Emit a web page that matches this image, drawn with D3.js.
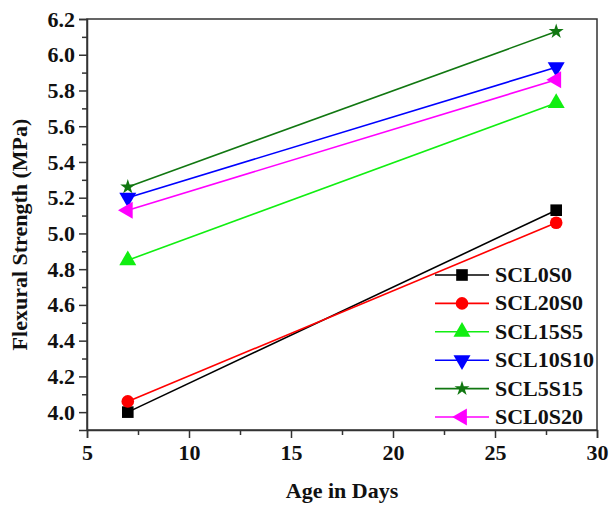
<!DOCTYPE html>
<html>
<head>
<meta charset="utf-8">
<title>Flexural Strength</title>
<style>
  body { margin: 0; background: #fff; }
  text { font-family: "Liberation Serif", "Times New Roman", Times, serif; font-weight: bold; fill: #111; }
</style>
</head>
<body>
<script src="https://cdn.jsdelivr.net/npm/d3@7"></script>
<script>
// data
var ages = [7, 28];
var seriesNames = ["SCL0S0", "SCL20S0", "SCL15S5", "SCL10S10", "SCL5S15", "SCL0S20"];
var scl0s0   = [4.00, 5.13];
var scl20s0  = [4.06, 5.06];
var scl15s5  = [4.85, 5.73];
var scl10s10 = [5.20, 5.93];
var scl5s15  = [5.26, 6.13];
var scl0s20  = [5.13, 5.86];
var xTicks = [5, 10, 15, 20, 25, 30];
var yTicks = [4.0, 4.2, 4.4, 4.6, 4.8, 5.0, 5.2, 5.4, 5.6, 5.8, 6.0, 6.2];

var series = [
  { name: seriesNames[0], values: scl0s0,   color: "#000000", shape: d3.symbolSquare,   rot: 0,   size: 135 },
  { name: seriesNames[1], values: scl20s0,  color: "#ff0000", shape: d3.symbolCircle,   rot: 0,   size: 125 },
  { name: seriesNames[2], values: scl15s5,  color: "#11ee11", shape: d3.symbolTriangle, rot: 0,   size: 125 },
  { name: seriesNames[3], values: scl10s10, color: "#0000ff", shape: d3.symbolTriangle, rot: 180, size: 125 },
  { name: seriesNames[4], values: scl5s15,  color: "#117711", shape: d3.symbolStar,     rot: 0,   size: 70 },
  { name: seriesNames[5], values: scl0s20,  color: "#ff00ff", shape: d3.symbolTriangle, rot: -90, size: 125 }
];

var width = 610, height = 505;
var margin = { top: 19, right: 13, bottom: 75, left: 87 };
var fontSize = 22;

var svg = d3.select("body").append("svg")
  .attr("width", width)
  .attr("height", height);

var x = d3.scaleLinear().domain([5, 30]).range([margin.left, width - margin.right]);
var y = d3.scaleLinear().domain([3.9, 6.2]).range([height - margin.bottom, margin.top]);

var plotBottom = height - margin.bottom;

// frame
svg.append("rect")
  .attr("x", margin.left).attr("y", margin.top)
  .attr("width", width - margin.right - margin.left)
  .attr("height", plotBottom - margin.top)
  .attr("fill", "none").attr("stroke", "#333").attr("stroke-width", 1.5);

// x axis
svg.append("g")
  .attr("transform", "translate(0," + plotBottom + ")")
  .call(d3.axisBottom(x).tickValues(xTicks).tickSize(8).tickPadding(6).tickFormat(d3.format("d")));
svg.append("g")
  .attr("transform", "translate(0," + plotBottom + ")")
  .call(d3.axisBottom(x).tickValues([7.5, 12.5, 17.5, 22.5, 27.5]).tickSize(5).tickFormat(""))
  .call(function(g) { g.select(".domain").remove(); });

// y axis
svg.append("g")
  .attr("transform", "translate(" + margin.left + ",0)")
  .call(d3.axisLeft(y).tickValues(yTicks).tickSize(8).tickPadding(4).tickFormat(d3.format(".1f")));
svg.append("g")
  .attr("transform", "translate(" + margin.left + ",0)")
  .call(d3.axisLeft(y).tickValues(d3.range(4.1, 6.2, 0.2)).tickSize(5).tickFormat(""))
  .call(function(g) { g.select(".domain").remove(); });

svg.selectAll(".tick line").attr("stroke", "#333").attr("stroke-width", 1.5);
svg.selectAll(".domain").attr("stroke", "#333").attr("stroke-width", 1.5);
svg.selectAll(".tick text")
  .attr("font-size", fontSize)
  .attr("font-family", "Liberation Serif, serif")
  .attr("font-weight", "bold")
  .attr("fill", "#111");

// axis titles
svg.append("text")
  .attr("x", (margin.left + width - margin.right) / 2)
  .attr("y", 498)
  .attr("text-anchor", "middle")
  .attr("font-size", fontSize)
  .text("Age in Days");

svg.append("text")
  .attr("transform", "translate(27," + ((margin.top + plotBottom) / 2 + 10) + ") rotate(-90)")
  .attr("text-anchor", "middle")
  .attr("font-size", fontSize)
  .text("Flexural Strength (MPa)");

// lines and markers
var line = d3.line()
  .x(function(d, i) { return x(ages[i]); })
  .y(function(d) { return y(d); });

series.forEach(function(s) {
  svg.append("path")
    .datum(s.values)
    .attr("d", line)
    .attr("fill", "none")
    .attr("stroke", s.color)
    .attr("stroke-width", 1.6);

  svg.selectAll(null)
    .data(s.values)
    .enter().append("path")
    .attr("d", d3.symbol().type(s.shape).size(s.size))
    .attr("transform", function(d, i) {
      return "translate(" + x(ages[i]) + "," + y(d) + ") rotate(" + s.rot + ")";
    })
    .attr("fill", s.color);
});

// legend
var legend = svg.append("g").attr("transform", "translate(435,275)");
var item = legend.selectAll("g")
  .data(series)
  .enter().append("g")
  .attr("transform", function(d, i) { return "translate(0," + i * 28.4 + ")"; });

item.append("line")
  .attr("x1", 0).attr("x2", 54)
  .attr("stroke", function(d) { return d.color; })
  .attr("stroke-width", 1.6);

item.append("path")
  .attr("d", function(d) { return d3.symbol().type(d.shape).size(d.size)(); })
  .attr("transform", function(d) { return "translate(27,0) rotate(" + d.rot + ")"; })
  .attr("fill", function(d) { return d.color; });

item.append("text")
  .attr("x", 60)
  .attr("y", 7)
  .attr("font-size", fontSize)
  .text(function(d) { return d.name; });
</script>
</body>
</html>
